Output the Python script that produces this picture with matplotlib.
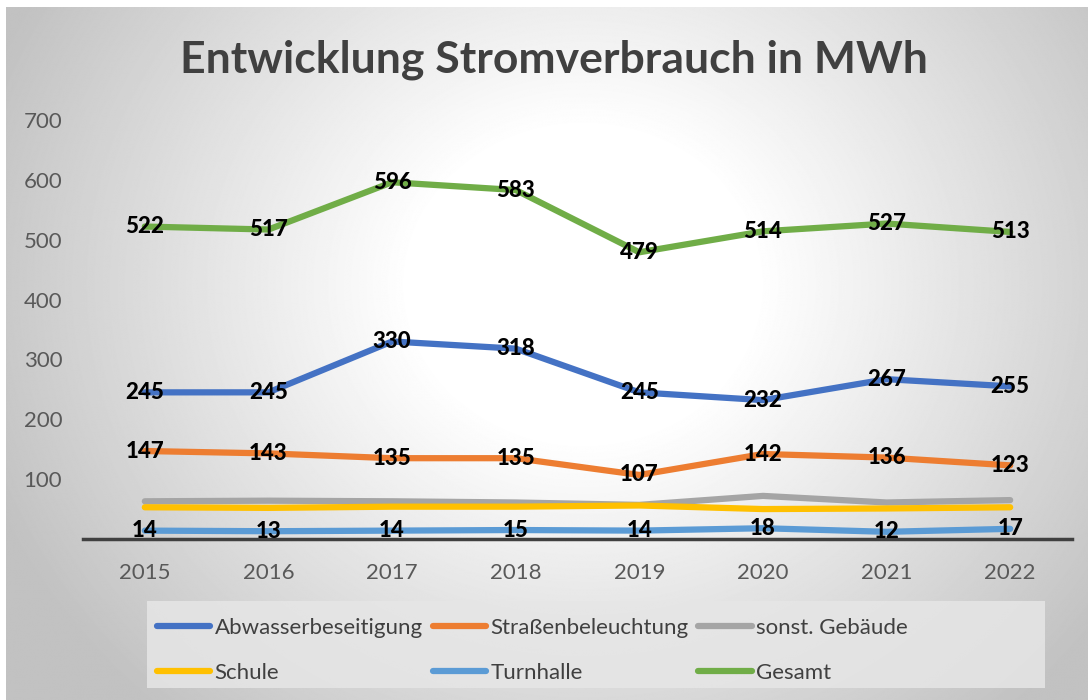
import numpy as np
import matplotlib.pyplot as plt
from matplotlib.lines import Line2D
from matplotlib.patches import Rectangle

years = ['2015', '2016', '2017', '2018', '2019', '2020', '2021', '2022']
abwasser = [245, 245, 330, 318, 245, 232, 267, 255]
strassen = [147, 143, 135, 135, 107, 142, 136, 123]
sonst = [63, 64, 63, 61, 57, 72, 61, 65]
schule = [53, 52, 54, 54, 56, 50, 51, 53]
turnhalle = [14, 13, 14, 15, 14, 18, 12, 17]
gesamt = [522, 517, 596, 583, 479, 514, 527, 513]

names = ['Abwasserbeseitigung', 'Straßenbeleuchtung', 'sonst. Gebäude',
         'Schule', 'Turnhalle', 'Gesamt']
colors = ['#4472C4', '#ED7D31', '#A5A5A5', '#FFC000', '#5B9BD5', '#70AD47']
series = [abwasser, strassen, sonst, schule, turnhalle, gesamt]
labelled = [True, True, False, False, True, True]

plt.rcParams['font.family'] = ['Lato', 'DejaVu Sans']

W, H = 1088, 700
fig = plt.figure(figsize=(W / 100, H / 100), dpi=100)

# radial gradient background
bg = fig.add_axes([6 / W, 0, 1 - 6 / W, 1 - 7 / H])
bg.set_axis_off()
yy, xx = np.mgrid[0:H, 0:W]
r = np.sqrt(((xx - 580) / 620) ** 2 + ((yy - 280) / 560) ** 2)
val = np.clip(1 - 0.24 * np.clip(r - 0.28, 0, None) / 0.75, 0.76, 1)
bg.imshow(val, cmap='gray', vmin=0, vmax=1, aspect='auto', interpolation='bilinear')

# legend background box
fig.patches.append(Rectangle((147 / W, 1 - 688 / H), (1045 - 147) / W, (688 - 601) / H,
                             transform=fig.transFigure, facecolor='#e6e6e6', alpha=0.85,
                             edgecolor='none', zorder=1))

ax = fig.add_axes([83 / W, 1 - 539 / H, (1072 - 83) / W, (539 - 120) / H])
ax.patch.set_alpha(0)
x = np.arange(len(years))
for name, vals, c, lab in zip(names, series, colors, labelled):
    ax.plot(x, vals, color=c, lw=4.5, solid_capstyle='round', label=name)
    if lab:
        for xi, v in zip(x, vals):
            ax.text(xi, v, str(v), ha='center', va='center', fontsize=16,
                    fontweight='black', color='black', zorder=5)

ax.set_xlim(-0.5, len(years) - 0.5)
ax.set_ylim(0, 700)
ax.set_yticks(range(100, 701, 100))
ax.set_xticks(x)
ax.set_xticklabels(years)
ax.tick_params(length=0, labelsize=16, labelcolor='#595959')
ax.tick_params(axis='y', pad=15)
ax.tick_params(axis='x', pad=17)
for s in ['top', 'right', 'left']:
    ax.spines[s].set_visible(False)
ax.spines['bottom'].set_color('#404040')
ax.spines['bottom'].set_linewidth(2.5)

fig.text(554 / W, 1 - 60 / H, 'Entwicklung Stromverbrauch in MWh', ha='center',
         va='center', fontsize=32, fontweight='bold', color='#404040')

# row-major order for a 2x3 legend
order = [0, 3, 1, 4, 2, 5]
handles = [Line2D([], [], color=colors[i], lw=4.5, solid_capstyle='round') for i in order]
leg = fig.legend(handles, [names[i] for i in order], ncol=3, loc='upper left',
                 bbox_to_anchor=(140 / W, 1 - 601 / H),
                 fontsize=16, frameon=False, handlelength=2.4, handletextpad=0.2,
                 columnspacing=0.45, labelspacing=1.15, borderpad=0.75, borderaxespad=0)
for t in leg.get_texts():
    t.set_color('#404040')

fig.savefig('out.png', dpi=100)
